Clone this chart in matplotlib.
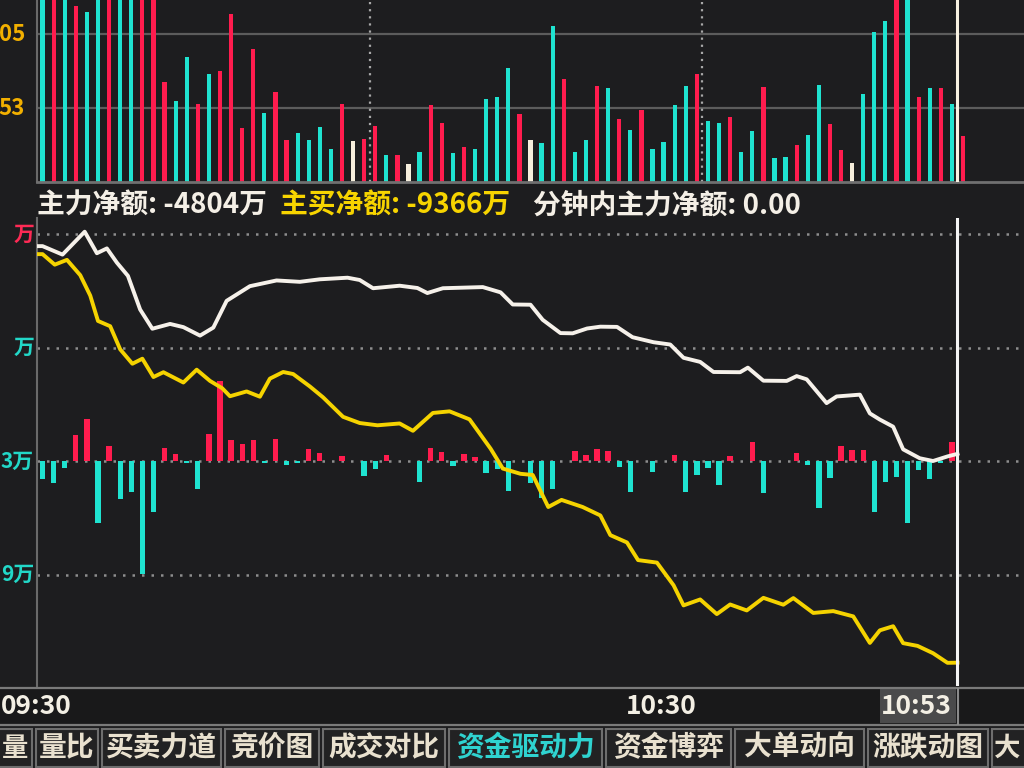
import matplotlib
matplotlib.use("Agg")
import matplotlib.pyplot as plt
from matplotlib.patches import Rectangle
from matplotlib.lines import Line2D

plt.rcParams['font.family'] = ['Noto Sans CJK SC', 'DejaVu Sans']

# ---------------- data ----------------
# per-minute volume bars (09:30 .. 10:53), top panel
vol_values = [18000, 18500, 17500, 15150, 14560, 17000, 18000, 16100, 17500, 18000,
              18500, 8630, 6980, 10750, 6670, 9250, 9500, 14410, 4605, 11390,
              5905, 7750, 3630, 4240, 3600, 4730, 2860, 6720, 3530, 3690,
              4815, 2340, 2315, 1515, 2545, 6640, 5050, 2500, 3010, 2810,
              7130, 7280, 9770, 5860, 3595, 3320, 13360, 8870, 2580, 3590,
              8285, 8075, 5415, 4455, 6225, 2810, 3470, 6580, 8255, 9250,
              5250, 5070, 5550, 2600, 4420, 8170, 2045, 2120, 3180, 4000,
              8305, 4960, 2790, 1610, 7540, 12870, 13830, 17000, 17500, 7260,
              8065, 8045, 6715, 3925]
# r = up, c = down, w = flat
vol_colors = list("crcrccrccr" "rrccrcrrrr" "crrccccrwr" "rcrwcrrcrc" "cccrwccrcc"
                  "rcrcrccccr" "ccrccrccrc" "crrwcccrcr" "crcr")
vol_grid = [6353, 12705]
vol_labels = ["53", "05"]          # visible (cropped) parts of the axis labels

# cumulative main-force net (white) and active-buy net (yellow), 万
white_t = [0, 0.5, 2.3, 4.3, 5.4, 6.3, 7.2, 8.2, 9.3, 10.4,
           12.0, 13.2, 14.7, 15.9, 17.1, 19.2, 21.6, 23.7, 25.5, 28.0,
           29.1, 30.3, 32.7, 34.3, 35.2, 36.6, 40.2, 41.8, 42.9, 44.5,
           45.6, 47.2, 48.3, 49.6, 50.8, 52.3, 53.7, 55.6, 57.1, 58.3,
           59.8, 61.0, 63.4, 64.1, 65.5, 67.6, 68.5, 69.4, 71.2, 72.1,
           74.2, 75.1, 76.0, 77.2, 78.1, 79.6, 80.8, 82.1, 83.0]
white_v = [-265, -265, -450, 50, -420, -315, -625, -915, -1650, -2070,
           -1965, -2035, -2220, -2045, -1460, -1140, -1015, -1045, -990, -955,
           -1005, -1185, -1130, -1180, -1290, -1185, -1160, -1275, -1540, -1545,
           -1875, -2165, -2170, -2065, -2025, -2030, -2255, -2365, -2415, -2705,
           -2795, -3015, -3020, -2920, -3205, -3210, -3105, -3175, -3695, -3550,
           -3510, -3920, -4055, -4210, -4705, -4900, -4960, -4860, -4804]

yellow_t = [0, 0.5, 1.6, 2.7, 3.9, 4.8, 5.5, 6.6, 7.5, 8.6,
            9.5, 10.5, 11.4, 13.2, 14.4, 15.6, 16.7, 17.4, 18.9, 20.1,
            21.0, 22.2, 23.1, 24.6, 25.8, 27.6, 29.1, 30.7, 32.7, 33.9,
            35.7, 37.2, 39.0, 40.9, 42.0, 43.6, 44.7, 46.1, 47.3, 49.2,
            50.8, 51.7, 53.2, 54.2, 55.9, 57.4, 58.3, 59.8, 61.3, 62.5,
            64.0, 65.5, 67.3, 68.2, 70.0, 71.8, 73.6, 75.1, 76.0, 77.2,
            78.1, 79.4, 80.8, 82.1, 83.0]
yellow_v = [-440, -440, -670, -565, -900, -1345, -1900, -2015, -2520, -2835,
            -2725, -3125, -3020, -3245, -2965, -3210, -3370, -3545, -3440, -3555,
            -3160, -3015, -3060, -3330, -3570, -3995, -4130, -4180, -4140, -4300,
            -3910, -3875, -4050, -4690, -5125, -5240, -5265, -5965, -5810, -5965,
            -6150, -6580, -6740, -7125, -7180, -7675, -8115, -7985, -8305, -8095,
            -8225, -7950, -8100, -7955, -8280, -8240, -8355, -8935, -8660, -8570,
            -8940, -9000, -9160, -9370, -9366]

# per-minute net main-force amount (万)
net_k = [0, 1, 2, 3, 4, 5, 6, 7, 8, 9, 10, 11, 12, 13, 14, 15, 16, 17, 18, 19,
         20, 21, 22, 23, 24, 25, 27, 29, 30, 31, 34, 35, 36, 37, 38, 39, 40, 41, 42,
         44, 45, 46, 48, 49, 50, 51, 52, 53, 55, 57, 58, 59, 60, 61, 62, 64, 65,
         68, 69, 70, 71, 72, 73, 74, 75, 76, 77, 78, 79, 80, 81, 82]
net_v = [-400, -480, -150, 570, 920, -1360, 330, -840, -680, -2460,
         -1120, 290, 150, -45, -620, 590, 1740, 460, 370, 460,
         -45, 480, -90, -45, 260, 180, 110, -330, -175, 130,
         -460, 285, 200, -110, 155, 90, -265, -175, -660,
         -485, -815, -615, 220, 130, 265, 220, -130, -680, -240, 130,
         -670, -300, -150, -515, 110, 410, -690,
         170, -85, -1030, -365, 320, 235, 235, -1120, -450, -345, -1355, -195, -385, -45, 410]

line_grid = [0, -2480, -4960, -7440]
line_labels = ["万", "万", "3万", "9万"]   # visible (cropped) parts of the axis labels
line_label_colors = ["#ff2a55", "#22d8c8", "#22d8c8", "#22d8c8"]

time_grid = [30, 60]
cursor_t = 83
time_labels = ["09:30", "10:30", "10:53"]

info_texts = ["主力净额: -4804万", "主买净额: -9366万", "分钟内主力净额: 0.00"]
info_colors = ["#f4efe6", "#f7d400", "#f4efe6"]

tabs = ["量", "量比", "买卖力道", "竞价图", "成交对比", "资金驱动力", "资金博弈", "大单动向", "涨跌动图", "大"]
tab_active = "资金驱动力"

# ---------------- styling ----------------
W, H = 1024, 768
BG = '#1d1d1f'
RED = '#ff1c4e'
CYAN = '#1fe3d0'
FLAT = '#f6eedc'
WHITE_LINE = '#f6f1ea'
YELLOW_LINE = '#f5d300'
GRID = '#8e8e8e'
SPINE = '#6a6a6a'

fig = plt.figure(figsize=(W / 100, H / 100), dpi=100)
fig.patch.set_facecolor(BG)


def fx(px):
    return px / W


def fy(py):
    return 1 - py / H


LEFT = 37
PX_PER_MIN = 11.09
X_MAX = (W - LEFT) / PX_PER_MIN


def clean(ax):
    ax.set_facecolor('none')
    ax.set_xticks([])
    ax.set_yticks([])
    for s in ax.spines.values():
        s.set_visible(False)


# ---------- top volume panel ----------
TOP_BOTTOM = 182
ax_top = fig.add_axes([fx(LEFT), fy(TOP_BOTTOM), 1 - fx(LEFT), TOP_BOTTOM / H])
clean(ax_top)
ax_top.set_xlim(0, X_MAX)
ax_top.set_ylim(0, 15630)
ax_top.spines['left'].set_visible(True)
ax_top.spines['left'].set_color(SPINE)
ax_top.spines['left'].set_linewidth(1.5)
ax_top.spines['bottom'].set_visible(True)
ax_top.spines['bottom'].set_color('#707070')
ax_top.spines['bottom'].set_linewidth(2)
for v in vol_grid:
    ax_top.axhline(v, color='#5c5c5c', lw=1.6, zorder=1)
for t in time_grid:
    ax_top.axvline(t, color='#a8a8a8', lw=1.6, ls=(0, (1, 2.2)), zorder=1)
cmap = {'r': RED, 'c': CYAN, 'w': FLAT}
ax_top.bar([k + 0.5 for k in range(len(vol_values))], vol_values, width=0.38,
           color=[cmap[c] for c in vol_colors], zorder=2)
ax_top.axvline(cursor_t, color='#f8f1e2', lw=2.2, zorder=3)
for v, lab in zip(vol_grid, vol_labels):
    ax_top.annotate(lab, xy=(0, v), xycoords=('axes fraction', 'data'),
                    xytext=(-12, 0), textcoords='offset pixels',
                    ha='right', va='center', color='#f2b000', fontsize=16,
                    fontweight='bold', annotation_clip=False)

# ---------- info line ----------
info_x = [37, 280, 533]
for x, txt, col in zip(info_x, info_texts, info_colors):
    fig.text(fx(x), fy(206), txt, color=col, fontsize=20, fontweight='bold',
             ha='left', va='center')

# ---------- lower panel ----------
LOW_TOP, LOW_BOTTOM = 218, 686
rect = [fx(LEFT), fy(LOW_BOTTOM), 1 - fx(LEFT), (LOW_BOTTOM - LOW_TOP) / H]
PX_PER_WAN = 1 / 21.85
GRID0_PX = 234
ax_bar = fig.add_axes(rect, zorder=1)
clean(ax_bar)
ax_line = fig.add_axes(rect, zorder=2)
clean(ax_line)
for a in (ax_bar, ax_line):
    a.set_xlim(0, X_MAX)
ax_line.set_ylim(-(LOW_BOTTOM - GRID0_PX) / PX_PER_WAN, (GRID0_PX - LOW_TOP) / PX_PER_WAN)
zero_px = GRID0_PX + (-line_grid[2]) * PX_PER_WAN
ax_bar.set_ylim(-(LOW_BOTTOM - zero_px) / PX_PER_WAN, (zero_px - LOW_TOP) / PX_PER_WAN)

ax_line.spines['left'].set_visible(True)
ax_line.spines['left'].set_color(SPINE)
ax_line.spines['left'].set_linewidth(1.5)

for v in line_grid:
    ax_bar.axhline(v - line_grid[2], color=GRID, lw=1.8, ls=(0, (1, 2.8)), zorder=1)

ax_bar.bar([k + 0.5 for k in net_k], net_v, width=0.48,
           color=[RED if v > 0 else CYAN for v in net_v], zorder=2)

ax_line.plot(white_t, white_v, color=WHITE_LINE, lw=2.8, solid_joinstyle='round', zorder=3)
ax_line.plot(yellow_t, yellow_v, color=YELLOW_LINE, lw=2.8, solid_joinstyle='round', zorder=3)
ax_line.axvline(cursor_t, color='#f4f4f4', lw=2.2, zorder=4)

for v, lab, col in zip(line_grid, line_labels, line_label_colors):
    ax_line.annotate(lab, xy=(0, v), xycoords=('axes fraction', 'data'),
                     xytext=(-3, 0), textcoords='offset pixels',
                     ha='right', va='center', color=col, fontsize=15,
                     fontweight='bold', annotation_clip=False)

# ---------- time bar ----------
fig.add_artist(Rectangle((0, fy(724)), 1, (724 - 688) / H, transform=fig.transFigure,
                         facecolor='#19191a', edgecolor='none', zorder=0))
fig.add_artist(Line2D([0, 1], [fy(688), fy(688)], transform=fig.transFigure,
                      color='#7a7a7a', lw=1.6))
fig.add_artist(Line2D([0, 1], [fy(725), fy(725)], transform=fig.transFigure,
                      color='#7a7a7a', lw=1.6))
fig.add_artist(Rectangle((fx(880), fy(723)), fx(956 - 880), (723 - 689) / H,
                         transform=fig.transFigure, facecolor='#4a4a4b',
                         edgecolor='none', zorder=1))
fig.add_artist(Line2D([fx(958), fx(958)], [fy(689), fy(724)], transform=fig.transFigure,
                      color='#8a8a8a', lw=1.5))

fig.text(fx(1), fy(706), time_labels[0], color='#f3efe4', fontsize=19,
         fontweight='bold', ha='left', va='center', zorder=3)
time_label_right_px = [697, 952]
for x, lab in zip(time_label_right_px, time_labels[1:]):
    fig.text(fx(x), fy(706), lab, color='#f3efe4', fontsize=19, fontweight='bold',
             ha='right', va='center', zorder=3)

# ---------- tabs ----------
tab_edges = [-20, 34, 100, 223, 321, 447, 604, 733, 866, 990, 1060]
for i, name in enumerate(tabs):
    x0, x1 = tab_edges[i], tab_edges[i + 1]
    fig.add_artist(Rectangle((fx(x0 + 2), fy(767)), fx(x1 - x0 - 4), (767 - 729) / H,
                             transform=fig.transFigure, facecolor='#222223',
                             edgecolor='#6e6e6e', lw=1.5, zorder=1))
    col = '#2fd3d0' if name == tab_active else '#e9e1cf'
    if i == len(tabs) - 1:
        fig.text(fx(x0 + 4), fy(748), name, color=col, fontsize=19, fontweight='bold',
                 ha='left', va='center', zorder=3)
    elif i == 0:
        fig.text(fx(x1 - 6), fy(748), name, color=col, fontsize=19, fontweight='bold',
                 ha='right', va='center', zorder=3)
    else:
        fig.text(fx((x0 + x1) / 2), fy(748), name, color=col, fontsize=20,
                 fontweight='bold', ha='center', va='center', zorder=3)

fig.savefig("out.png", dpi=100, facecolor=BG)
